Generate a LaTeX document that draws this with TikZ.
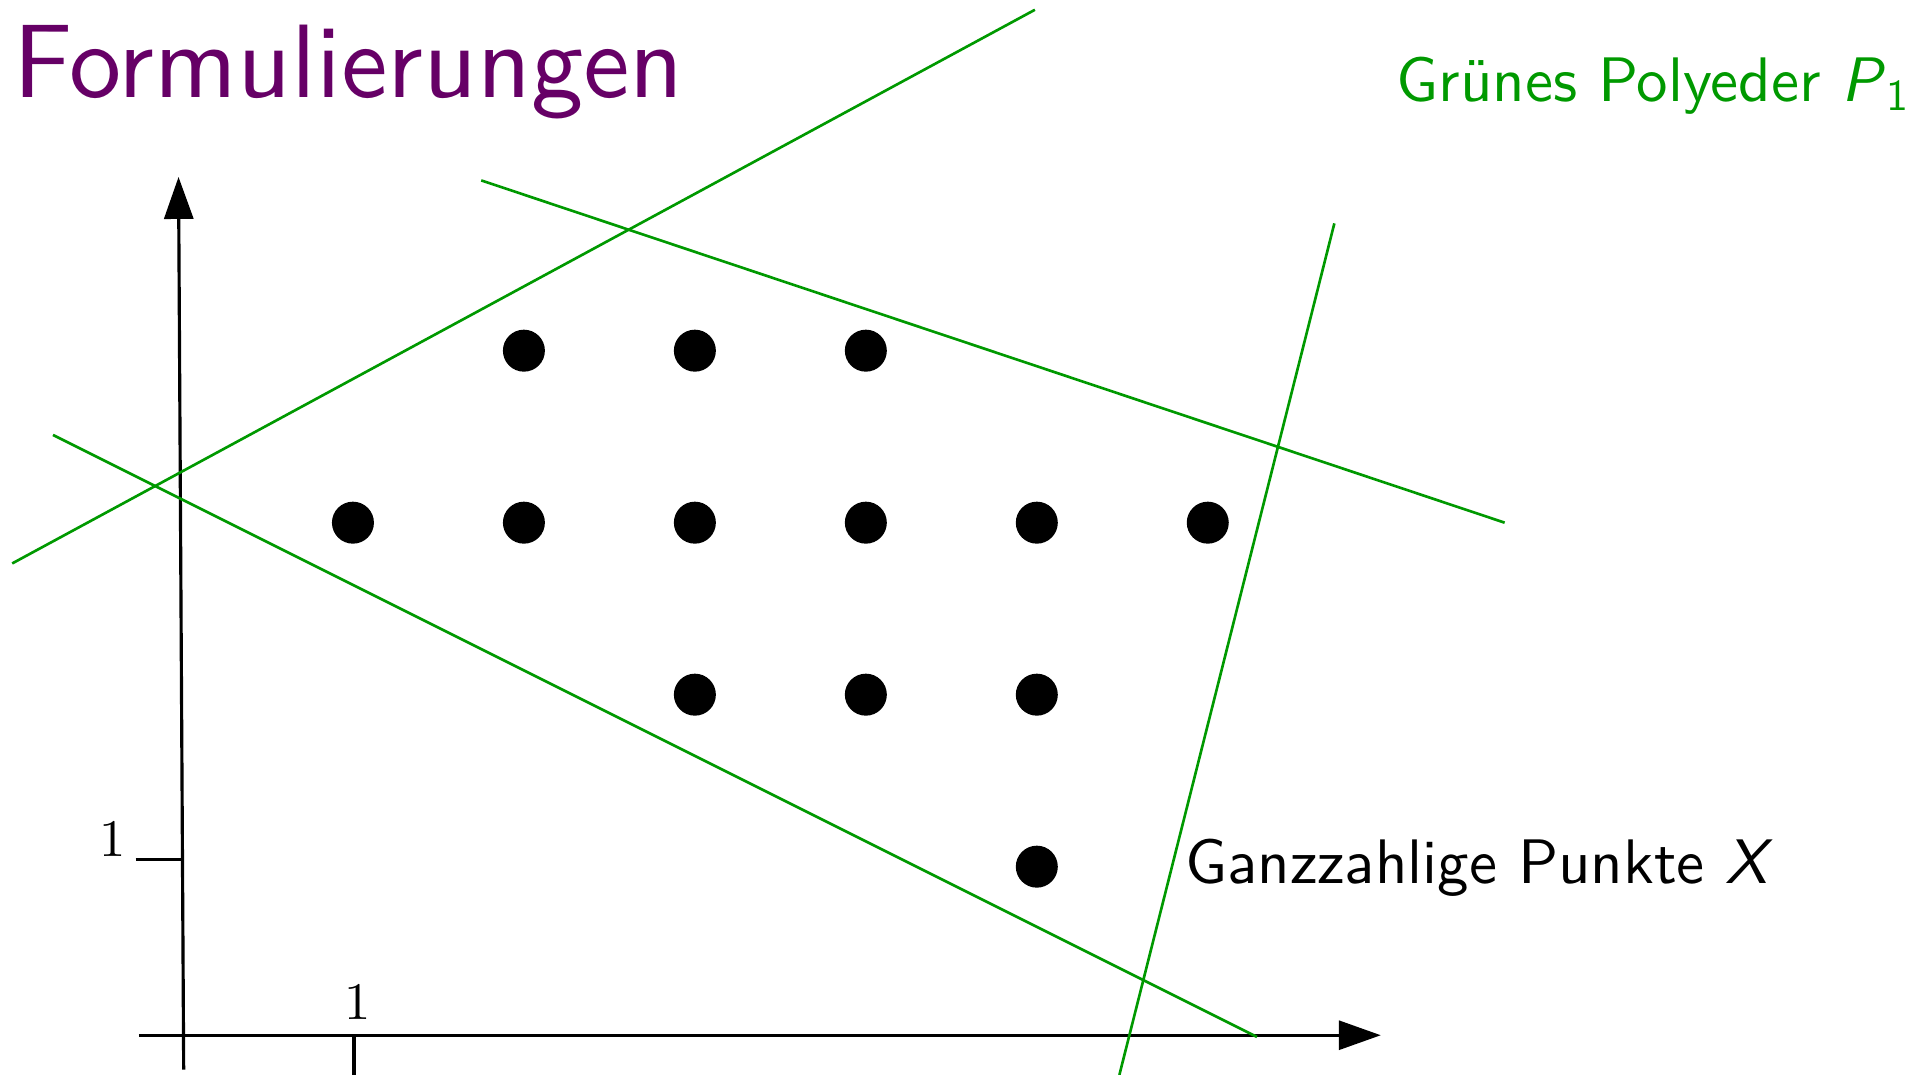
\documentclass[tikz,border=0pt]{standalone}
\usepackage{fontspec}
\setmainfont{lmroman10-regular.otf}[ItalicFont=lmroman10-italic.otf,BoldFont=lmroman10-bold.otf]
\setsansfont{lmsans10-regular.otf}[ItalicFont=lmsans10-oblique.otf,BoldFont=lmsans10-bold.otf]
\usepackage{xcolor}
\usetikzlibrary{arrows.meta}
\definecolor{titel}{RGB}{102,0,102}
\definecolor{gruen}{RGB}{0,153,0}

\begin{document}
\begin{tikzpicture}[x=1.72cm,y=1.72cm,>={Triangle[length=4.2mm,width=2.9mm]},
  pkt/.style={circle,fill,inner sep=0pt,minimum size=4.2mm},
  kante/.style={gruen,line width=0.75pt},
  achse/.style={line width=0.9pt},
  txt/.style={anchor=base west,inner sep=0pt,font=\sffamily\fontsize{17.9}{19}\selectfont}]
\useasboundingbox (-1.058,-0.221) rectangle (10.134,6.029);
\node[titel,anchor=base west,inner sep=0pt,font=\sffamily\fontsize{29.7}{32}\selectfont] (titel) at (-0.985,5.46) {Formulierungen};
\coordinate (xa) at (-0.25,0.01);
\coordinate (xe) at (6.97,0.01);
\coordinate (ya) at (0.01,-0.19);
\coordinate (ye) at (-0.02,5);
\draw[achse,->](xa)--(xe);
\draw[achse,->](ya)--(ye);
\draw[achse](1,0.01)--(1,-0.221)
(-0.27,1.03)--(0.01,1.03);
\node[anchor=base,font=\fontsize{15}{16}\selectfont] (einsx) at (1.02,0.10) {1};
\node[anchor=base,font=\fontsize{15}{16}\selectfont] (einsy) at (-0.40,1.05) {1};
\draw[kante](-0.987,2.753)--(4.959,5.972);
\draw[kante](1.74,4.98)--(7.69,2.99);
\draw[kante](-0.75,3.5)--(6.25,0);
\draw[kante](6.7,4.73)--(5.45,-0.221);
\foreach \x/\y in {2/4,3/4,4/4,1/3,2/3,3/3,4/3,5/3,6/3,3/2,4/2,5/2,5/1}
  \node[pkt] (p\x\y) at (0.994*\x,\y-0.01) {};
\node[txt,gruen] (polyeder) at (7.06,5.44) {Grünes Polyeder \textit{P}\textsubscript{1}};
\node[txt] (punkte) at (5.83,0.89) {Ganzzahlige Punkte \textit{X}};
\end{tikzpicture}
\end{document}
